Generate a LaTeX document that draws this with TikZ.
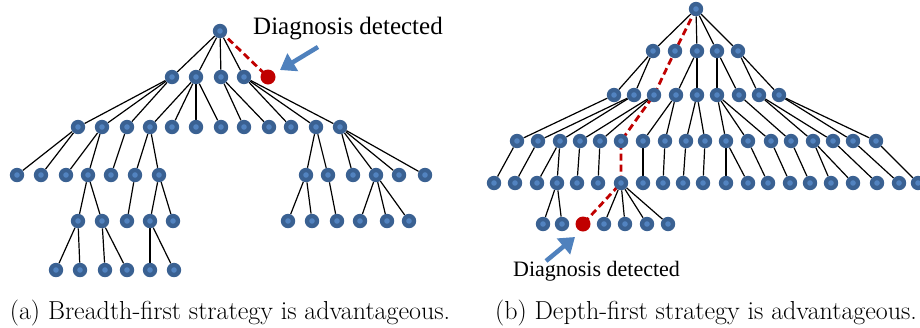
\documentclass[tikz,border=0pt]{standalone}
\usepackage{fontspec}
\newfontfamily\labelfont{Liberation Serif}
\usetikzlibrary{arrows.meta,backgrounds}

\definecolor{nodeouter}{HTML}{3A6192}
\definecolor{nodeinner}{HTML}{5283C0}
\definecolor{hitred}{HTML}{C00000}
\definecolor{pointerblue}{HTML}{4F81BD}

\begin{document}
\begin{tikzpicture}[x=1pt,y=-1pt,
  tn/.style={circle,inner sep=0pt,minimum size=14.4pt,fill=nodeouter,
    path picture={\fill[nodeinner] (path picture bounding box.center) circle (2.8pt);}},
  hit/.style={circle,inner sep=0pt,minimum size=15pt,fill=hitred},
  edge/.style={black,line width=1.2pt},
  trail/.style={hitred,line width=2.8pt,dash pattern=on 7pt off 4pt},
  pointer/.style={pointerblue,line width=4.5pt,-{Triangle[length=15pt,width=20pt]}},
  note/.style={inner sep=0pt,anchor=base},
  capt/.style={font=\fontsize{26}{30}\selectfont,inner sep=0pt,anchor=base}]

\useasboundingbox (0,0) rectangle (920,327);

% ---------- (a) breadth-first tree ----------
\node[tn] (a0) at (220,31) {};
\foreach \x in {172,196,221,244} \node[tn] (a1-\x) at (\x,77) {};
\node[hit] (aR) at (268,77) {};
\foreach \x in {78,102,127,150,172,196,221,244,269,291,316,340} \node[tn] (a2-\x) at (\x,127) {};
\foreach \x in {17,41,66,88,111,135,159,306,328,353,376,399,425} \node[tn] (a3-\x) at (\x,175) {};
\foreach \x in {78,102,127,150,173,288,312,337,360,387,409} \node[tn] (a4-\x) at (\x,221) {};
\foreach \x in {56,80,105,127,150,174} \node[tn] (a5-\x) at (\x,270) {};

% ---------- (b) depth-first tree ----------
\node[tn] (b0) at (696,9) {};
\foreach \x in {653,675,697,717,738} \node[tn] (b1-\x) at (\x,51) {};
\foreach \x in {614,634,654,676,697,717,739,759,779} \node[tn] (b2-\x) at (\x,95) {};
\foreach \x in {517,538,560,580,600,621,643,665,686,705,726,748,771,791,813,833,853,876} \node[tn] (b3-\x) at (\x,141) {};
\foreach \x in {494,515,537,557,577,598,621,643,663,683,703,726,748,768,790,810,831,853,877,899,918} \node[tn] (b4-\x) at (\x,183) {};
\foreach \x in {543,562,604,625,647,668} \node[tn] (b5-\x) at (\x,224) {};
\node[hit] (bR) at (583,224) {};

\begin{scope}[on background layer]
  % tree (a) edges
  \foreach \c in {172,196,221,244} \draw[edge] (a0) -- (a1-\c);
  \foreach \p/\c in {172/78,172/102,172/127,196/150,196/172,196/196,196/221,
                     221/244,221/269,244/291,244/316,244/340}
    \draw[edge] (a1-\p) -- (a2-\c);
  \foreach \p/\c in {78/17,78/41,102/66,102/88,127/111,150/135,150/159,
                     316/306,316/328,340/353,340/376,340/399,340/425}
    \draw[edge] (a2-\p) -- (a3-\c);
  \foreach \p/\c in {88/78,88/102,135/127,159/150,159/173,306/288,306/312,
                     328/337,376/360,376/387,376/409}
    \draw[edge] (a3-\p) -- (a4-\c);
  \foreach \p/\c in {78/56,78/80,102/105,102/127,150/150,150/174}
    \draw[edge] (a4-\p) -- (a5-\c);
  \draw[trail] (a0.center) -- (aR.center);

  % tree (b) edges
  \foreach \c in {653,697,717,738} \draw[edge] (b0) -- (b1-\c);
  \foreach \p/\c in {653/614,653/634,697/676,697/697,717/717,717/739,738/759,738/779}
    \draw[edge] (b1-\p) -- (b2-\c);
  \foreach \p/\c in {614/517,634/538,634/560,654/580,654/600,676/643,676/665,
                     697/686,697/705,717/726,717/748,717/771,739/791,759/813,
                     759/833,779/853,779/876}
    \draw[edge] (b2-\p) -- (b3-\c);
  \foreach \p/\c in {517/494,538/515,560/537,560/557,580/577,600/598,643/643,
                     665/663,686/683,705/703,726/726,726/748,748/768,771/790,
                     791/810,813/831,813/853,833/877,853/899,876/918}
    \draw[edge] (b3-\p) -- (b4-\c);
  \foreach \p/\c in {557/543,557/562,621/604,621/625,621/647,621/668}
    \draw[edge] (b4-\p) -- (b5-\c);
  \draw[trail] (b0.center) -- (b1-675.center) -- (b2-654.center)
    -- (b3-621.center) -- (b4-621.center) -- (bR.center);
\end{scope}

% pointers and labels
\coordinate (pa-tail) at (318,47);
\coordinate (pa-tip) at (280,70);
\draw[pointer] (pa-tail) -- (pa-tip);
\node[note,font={\labelfont\fontsize{25}{30}\selectfont}] (la) at (348,34.5) {Diagnosis detected};

\coordinate (pb-tail) at (546,261);
\coordinate (pb-tip) at (575,237);
\draw[pointer] (pb-tail) -- (pb-tip);
\node[note,font={\labelfont\fontsize{22}{26}\selectfont}] (lb) at (596.5,276.7) {Diagnosis detected};

% captions
\node[capt] (ca) at (230,319) {(a) Breadth-first strategy is advantageous.};
\node[capt] (cb) at (706,319) {(b) Depth-first strategy is advantageous.};
\end{tikzpicture}
\end{document}
